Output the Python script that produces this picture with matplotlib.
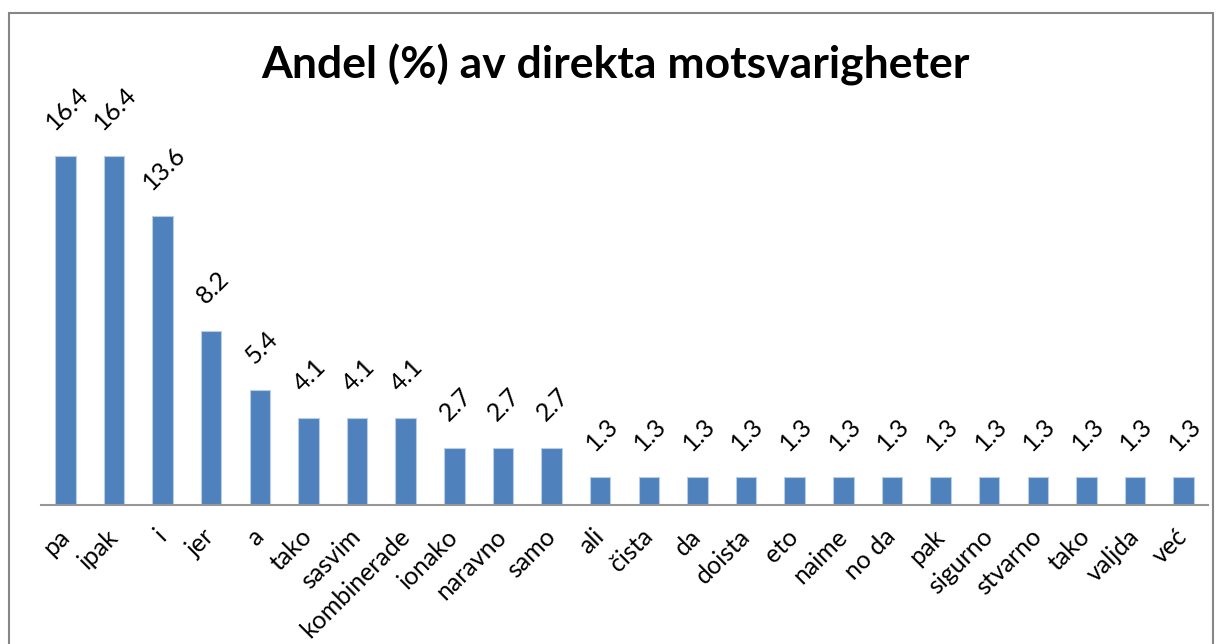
import matplotlib.pyplot as plt
from matplotlib.patches import Rectangle

plt.rcParams['font.family'] = ['Lato', 'DejaVu Sans']

words = ['pa', 'ipak', 'i', 'jer', 'a', 'tako', 'sasvim', 'kombinerade',
         'ionako', 'naravno', 'samo', 'ali', 'čista', 'da', 'doista', 'eto',
         'naime', 'no da', 'pak', 'sigurno', 'stvarno', 'tako', 'valjda', 'već']
shares = [16.4, 16.4, 13.6, 8.2, 5.4, 4.1, 4.1, 4.1, 2.7, 2.7, 2.7,
          1.3, 1.3, 1.3, 1.3, 1.3, 1.3, 1.3, 1.3, 1.3, 1.3, 1.3, 1.3, 1.3]

fig = plt.figure(figsize=(12.19, 6.44), dpi=100)
ax = fig.add_axes([41 / 1219, 1 - 505 / 644, 1167 / 1219, 383 / 644])

x = range(len(words))
bars = ax.bar(x, shares, width=0.42, color='#4f81bd', edgecolor='#b9cde5', linewidth=0.8)

for xi, v in zip(x, shares):
    ax.annotate(f'{v}', (xi, v), xytext=(1, 16), textcoords='offset points',
                rotation=45, ha='center', va='bottom', fontsize=18)

ax.set_xlim(-0.5, len(words) - 0.5)
ax.set_ylim(0, 18)
ax.set_xticks(list(x))
ax.set_xticklabels(words, rotation=45, ha='right', va='center',
                   rotation_mode='anchor', fontsize=18)
ax.tick_params(axis='x', length=0, pad=20)
ax.set_yticks([])
for s in ['top', 'right', 'left']:
    ax.spines[s].set_visible(False)
ax.spines['bottom'].set_color('#969696')
ax.spines['bottom'].set_linewidth(1.5)

fig.text(615 / 1219, 1 - 65 / 644, 'Andel (%) av direkta motsvarigheter',
         ha='center', va='center', fontsize=32, fontweight='bold')

fig.patches.append(Rectangle((9 / 1219, -0.1), 1204 / 1219, 1.1 - 13 / 644,
                             transform=fig.transFigure, fill=False,
                             edgecolor='#868686', linewidth=1.5))

fig.savefig('out.png', dpi=100)
